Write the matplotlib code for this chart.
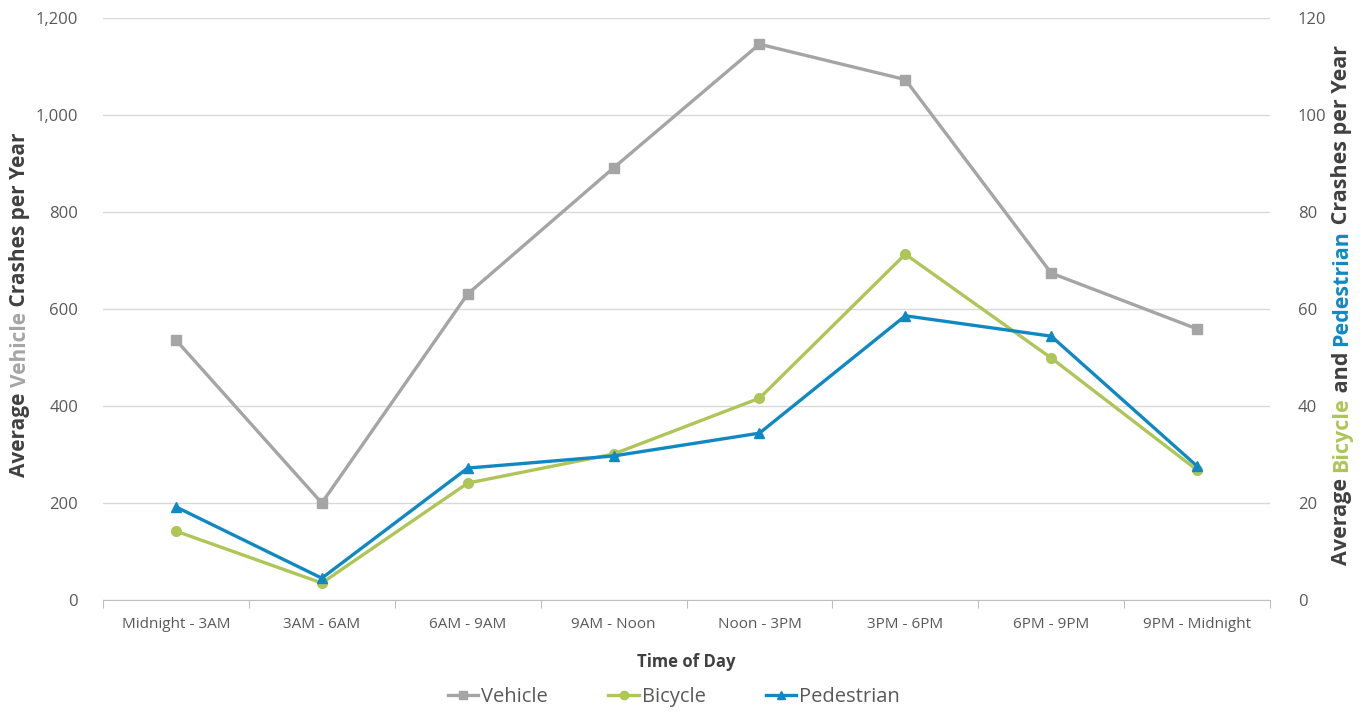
import matplotlib
matplotlib.use("Agg")
import matplotlib.pyplot as plt
from matplotlib.lines import Line2D

categories = ["Midnight - 3AM", "3AM - 6AM", "6AM - 9AM", "9AM - Noon",
              "Noon - 3PM", "3PM - 6PM", "6PM - 9PM", "9PM - Midnight"]
vehicle = [536, 200, 631, 891, 1146, 1073, 674, 559]
bicycle = [14.2, 3.5, 24.1, 30.1, 41.6, 71.3, 49.9, 26.8]
pedestrian = [19.2, 4.5, 27.2, 29.7, 34.4, 58.6, 54.4, 27.6]
left_ticks = [0, 200, 400, 600, 800, 1000, 1200]
right_ticks = [0, 20, 40, 60, 80, 100, 120]

C_VEH = "#A5A5A5"
C_BIC = "#AEC657"
C_PED = "#1089C3"
C_TXT = "#595959"
C_DARK = "#404040"
FONT = "Open Sans"

plt.rcParams["font.family"] = [FONT, "DejaVu Sans"]

fig = plt.figure(figsize=(13.67, 7.12), dpi=100)
ax = fig.add_axes([103/1367, 1 - 600/712, (1270-103)/1367, (600-18)/712])
ax2 = ax.twinx()

x = list(range(len(categories)))
ax.plot(x, vehicle, color=C_VEH, lw=2.4, marker="s", ms=7, zorder=3)
ax2.plot(x, bicycle, color=C_BIC, lw=2.4, marker="o", ms=7, zorder=3)
ax2.plot(x, pedestrian, color=C_PED, lw=2.4, marker="^", ms=7, zorder=4)

ax.set_xlim(-0.5, len(categories) - 0.5)
ax.set_ylim(0, 1200)
ax2.set_ylim(0, 120)
ax.set_yticks(left_ticks)
ax.set_yticklabels([f"{v:,}" for v in left_ticks])
ax2.set_yticks(right_ticks)
ax2.set_yticklabels([str(v) for v in right_ticks])

ax.grid(axis="y", color="#D9D9D9", lw=1)
ax.set_axisbelow(True)

ax.set_xticks([i - 0.5 for i in range(len(categories) + 1)])
ax.set_xticklabels([])
ax.set_xticks(x, minor=True)
ax.set_xticklabels(categories, minor=True)
ax.tick_params(axis="x", which="major", length=6, color="#BFBFBF", direction="out")
ax.tick_params(axis="x", which="minor", length=0, pad=12, labelsize=11, labelcolor=C_TXT)
ax.tick_params(axis="y", length=0, pad=18, labelsize=12, labelcolor=C_TXT)
ax2.tick_params(axis="y", length=0, pad=20, labelsize=12, labelcolor=C_TXT)

for a in (ax, ax2):
    for s in ("top", "left", "right"):
        a.spines[s].set_visible(False)
    a.spines["bottom"].set_color("#BFBFBF")
ax2.spines["bottom"].set_visible(False)

fig.text((103 + 1270) / 2 / 1367, 1 - 662 / 712, "Time of Day", ha="center", va="center",
         fontsize=12, fontweight="bold", color=C_DARK)


def multicolor_vertical(fig, xc, yc, pieces, fontsize):
    texts = []
    for s, c in pieces:
        t = fig.text(xc, yc, s, rotation=90, color=c, fontsize=fontsize,
                     fontweight="bold", ha="center", va="bottom")
        texts.append(t)
    fig.canvas.draw()
    r = fig.canvas.get_renderer()
    heights = [t.get_window_extent(r).height for t in texts]
    total = sum(heights)
    y0 = yc * fig.bbox.height - total / 2
    for t, h in zip(texts, heights):
        t.set_position((xc, y0 / fig.bbox.height))
        y0 += h


multicolor_vertical(fig, 20 / 1367, 1 - 305 / 712,
                    [("Average ", C_DARK), ("Vehicle", C_VEH), (" Crashes per Year", C_DARK)], 15)
multicolor_vertical(fig, 1342 / 1367, 1 - 305 / 712,
                    [("Average ", C_DARK), ("Bicycle", C_BIC), (" and ", C_DARK),
                     ("Pedestrian", C_PED), (" Crashes per Year", C_DARK)], 15.5)

handles = [Line2D([], [], color=C_VEH, lw=2.4, marker="s", ms=6),
           Line2D([], [], color=C_BIC, lw=2.4, marker="o", ms=6),
           Line2D([], [], color=C_PED, lw=2.4, marker="^", ms=6)]
fig.legend(handles, ["Vehicle", "Bicycle", "Pedestrian"], loc="center",
           bbox_to_anchor=(674 / 1367, 1 - 697 / 712), ncol=3, frameon=False,
           fontsize=14.5, handlelength=1.5, handletextpad=0.15, columnspacing=3.0,
           labelcolor=C_TXT)

fig.savefig("out.png", dpi=100)
